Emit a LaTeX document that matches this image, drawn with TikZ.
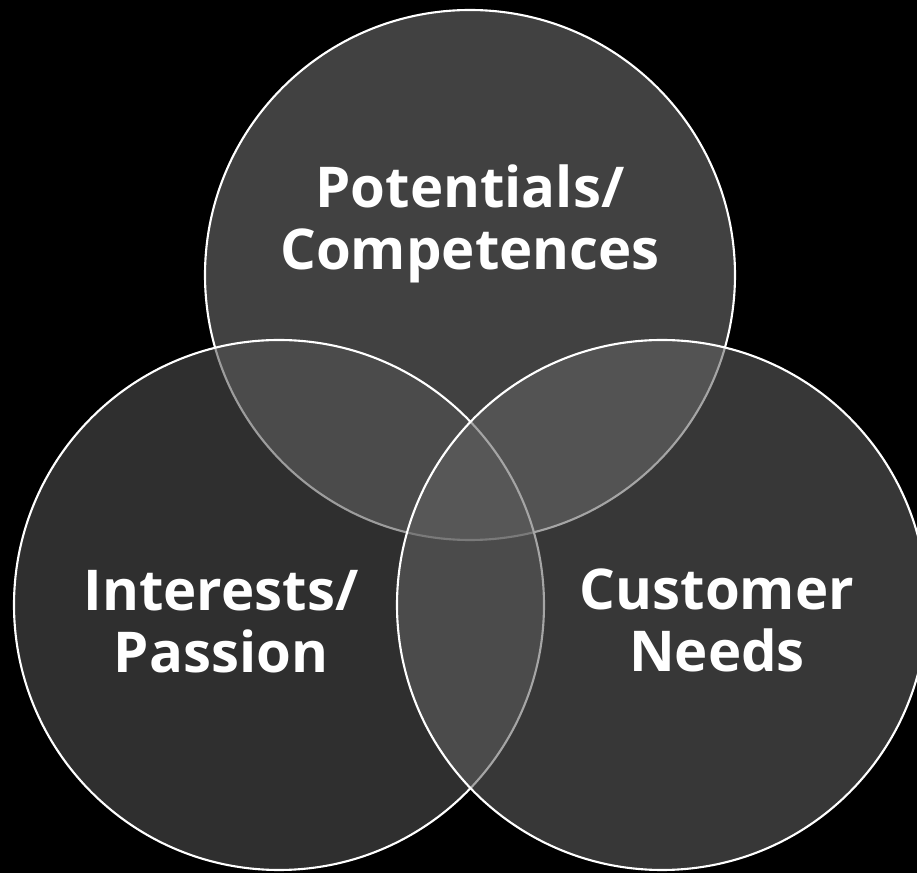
\documentclass[tikz,border=0pt]{standalone}
\usepackage{fontspec}
\setsansfont{Open Sans}
\usetikzlibrary{positioning}

\tikzset{
  venn/.style={draw=white, line width=0.6pt, fill opacity=0.57},
  lbl/.style={text=white, font=\sffamily\bfseries\fontsize{16}{17.6}\selectfont, align=center}
}

\begin{document}
\begin{tikzpicture}[x=0.01cm, y=-0.01cm]
\fill[black] (0,0) rectangle (917,873);
\useasboundingbox (0,0) rectangle (917,873);
\clip (0,0) rectangle (917,873);
\coordinate (ctop) at (470,275);
\coordinate (cleft) at (279,605);
\coordinate (cright) at (662,605);
\draw[venn, fill=white!45!black] (ctop) circle (265);
\draw[venn, fill=white!33!black] (cleft) circle (265);
\draw[venn, fill=white!38!black] (cright) circle (265);
\node[lbl] (pot) at (470,224) {Potentials/\\Competences};
\node[lbl] (int) at (221,622) {Interests/\\Passion};
\node[lbl] (cus) at (717,620) {Customer\\Needs};
\end{tikzpicture}
\end{document}
